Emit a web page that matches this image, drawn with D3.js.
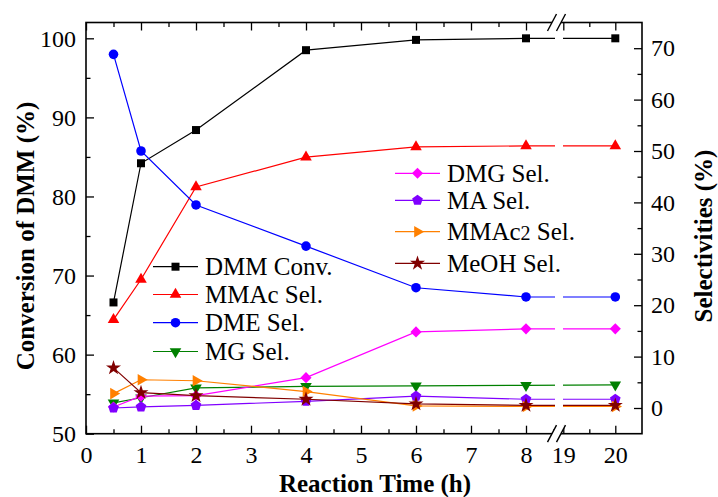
<!DOCTYPE html>
<html>
<head>
<meta charset="utf-8">
<script src="https://cdn.jsdelivr.net/npm/d3@7"></script>
<style>
    body { margin: 0; background: #fff; }
    svg, svg text { font-family: "Liberation Serif", "Times New Roman", "DejaVu Serif", serif; }
</style>
</head>
<body>
<div id="chart"></div>
<script>
'use strict';

// reaction time (h)
const times = [0.5, 1, 2, 4, 6, 8, 20];

// conversion of DMM (%) - left axis
const dmmConv = [66.6, 84.2, 88.4, 98.5, 99.8, 100.0, 100.0];

// selectivities (%) - right axis
const mmacSel  = [17.2, 25.0, 43.0, 48.8, 50.8, 51.0, 51.0];
const dmeSel   = [68.8, 50.0, 39.5, 31.5, 23.4, 21.6, 21.6];
const mgSel    = [1.0, 2.0, 3.9, 4.2, 4.3, 4.4, 4.5];
const dmgSel   = [0.2, 2.3, 2.4, 5.9, 14.8, 15.4, 15.4];
const maSel    = [0.0, 0.2, 0.5, 1.3, 2.3, 1.7, 1.7];
const mmac2Sel = [2.8, 5.5, 5.3, 3.2, 0.4, 0.3, 0.3];
const meohSel  = [7.8, 3.0, 2.4, 1.7, 0.8, 0.5, 0.5];

// tick values
const xTicksA = [0, 1, 2, 3, 4, 5, 6, 7, 8];
const xTicksB = [19, 20];
const leftTicks = [50, 60, 70, 80, 90, 100];
const rightTicks = [0, 10, 20, 30, 40, 50, 60, 70];

// Config
const W = 718, H = 497;
const plot = {left: 86, right: 642, top: 22.5, bottom: 433.7};
const breakGap = [555, 563];
const serif = '"Liberation Serif", "Times New Roman", "DejaVu Serif", serif';

const svg = d3.select('#chart')
    .append('svg')
    .attr('width', W)
    .attr('height', H)
    .attr('font-family', serif);

// x scale is split in two pieces around the axis break
const xA = d3.scaleLinear().domain([0, 8.6]).range([plot.left, 559]);
const xB = d3.scaleLinear().domain([19, 20]).range([563.3, 615.3]);
const xPos = t => (t < 12 ? xA(t) : xB(t));

const yL = d3.scaleLinear().domain([50, 102]).range([plot.bottom, plot.top]);
const yR = d3.scaleLinear().domain([-5, 75]).range([plot.bottom, plot.top]);

// markers
function pentagon(r) {
    const pts = d3.range(5).map(i => {
        const a = -Math.PI / 2 + i * 2 * Math.PI / 5;
        return [r * Math.cos(a), r * Math.sin(a)];
    });
    return 'M' + pts.map(p => p.join(',')).join('L') + 'Z';
}
const markers = {
    square:   {d: d3.symbol(d3.symbolSquare, 64)(), rot: 0},
    triUp:    {d: d3.symbol(d3.symbolTriangle, 58)(), rot: 0},
    circle:   {d: d3.symbol(d3.symbolCircle, 72)(), rot: 0},
    triDown:  {d: d3.symbol(d3.symbolTriangle, 58)(), rot: 180},
    diamond:  {d: d3.symbol(d3.symbolSquare, 62)(), rot: 45},
    pentagon: {d: pentagon(5.6), rot: 0},
    triRight: {d: d3.symbol(d3.symbolTriangle, 58)(), rot: 90},
    star:     {d: d3.symbol(d3.symbolStar, 70)(), rot: 0}
};

const series = [
    {name: 'DMM Conv.',  values: dmmConv,  y: yL, color: '#000000', marker: 'square'},
    {name: 'MMAc Sel.',  values: mmacSel,  y: yR, color: '#ff0000', marker: 'triUp'},
    {name: 'DME Sel.',   values: dmeSel,   y: yR, color: '#0000ff', marker: 'circle'},
    {name: 'MG Sel.',    values: mgSel,    y: yR, color: '#008000', marker: 'triDown'},
    {name: 'DMG Sel.',   values: dmgSel,   y: yR, color: '#ff00ff', marker: 'diamond'},
    {name: 'MA Sel.',    values: maSel,    y: yR, color: '#8000ff', marker: 'pentagon'},
    {name: 'MMAc2 Sel.', values: mmac2Sel, y: yR, color: '#ff8000', marker: 'triRight'},
    {name: 'MeOH Sel.',  values: meohSel,  y: yR, color: '#800000', marker: 'star'}
];

// clip lines so they stop at the break
const clip = svg.append('defs').append('clipPath').attr('id', 'breakClip');
clip.append('rect').attr('x', 0).attr('y', 0).attr('width', breakGap[0]).attr('height', H);
clip.append('rect').attr('x', breakGap[1]).attr('y', 0).attr('width', W - breakGap[1]).attr('height', H);

// frame
svg.append('rect')
    .attr('x', plot.left).attr('y', plot.top)
    .attr('width', plot.right - plot.left)
    .attr('height', plot.bottom - plot.top)
    .attr('fill', 'none')
    .attr('stroke', '#000')
    .attr('stroke-width', 1.6);

// axes helper
function styleAxis(g) {
    g.attr('font-family', serif).attr('font-size', 24);
    g.select('.domain').remove();
    g.selectAll('.tick line').attr('stroke', '#000').attr('stroke-width', 1.3);
    g.selectAll('.tick text').attr('fill', '#000');
}

const minorA = d3.range(0.5, 8.6, 1);
const minorB = [19.5];

// bottom axis
[[xA, xTicksA, minorA], [xB, xTicksB, minorB]].forEach(([sc, maj, mnr]) => {
    svg.append('g')
        .attr('transform', `translate(0,${plot.bottom})`)
        .call(d3.axisBottom(sc).tickValues(maj).tickFormat(d3.format('d'))
            .tickSizeInner(-8).tickSizeOuter(0).tickPadding(12))
        .call(styleAxis);
    svg.append('g')
        .attr('transform', `translate(0,${plot.bottom})`)
        .call(d3.axisBottom(sc).tickValues(mnr).tickFormat('')
            .tickSizeInner(-4.5).tickSizeOuter(0))
        .call(styleAxis);
    // top mirror
    svg.append('g')
        .attr('transform', `translate(0,${plot.top})`)
        .call(d3.axisTop(sc).tickValues(maj).tickFormat('')
            .tickSizeInner(-8).tickSizeOuter(0))
        .call(styleAxis);
    svg.append('g')
        .attr('transform', `translate(0,${plot.top})`)
        .call(d3.axisTop(sc).tickValues(mnr).tickFormat('')
            .tickSizeInner(-4.5).tickSizeOuter(0))
        .call(styleAxis);
});

// left axis
svg.append('g')
    .attr('transform', `translate(${plot.left},0)`)
    .call(d3.axisLeft(yL).tickValues(leftTicks).tickSizeInner(-8).tickSizeOuter(0).tickPadding(10))
    .call(styleAxis);
svg.append('g')
    .attr('transform', `translate(${plot.left},0)`)
    .call(d3.axisLeft(yL).tickValues(d3.range(55, 100, 10)).tickFormat('').tickSizeInner(-4.5).tickSizeOuter(0))
    .call(styleAxis);

// right axis
svg.append('g')
    .attr('transform', `translate(${plot.right},0)`)
    .call(d3.axisRight(yR).tickValues(rightTicks).tickSizeInner(-8).tickSizeOuter(0).tickPadding(9))
    .call(styleAxis);
svg.append('g')
    .attr('transform', `translate(${plot.right},0)`)
    .call(d3.axisRight(yR).tickValues(d3.range(5, 70, 10)).tickFormat('').tickSizeInner(-4.5).tickSizeOuter(0))
    .call(styleAxis);

// axis break marks
[plot.top, plot.bottom].forEach(yy => {
    const c1 = 552, c2 = 561, dx = 4.5, dy = 8.5;
    svg.append('path')
        .attr('d', `M${c1 - dx},${yy + dy}L${c1 + dx},${yy - dy}L${c2 + dx},${yy - dy}L${c2 - dx},${yy + dy}Z`)
        .attr('fill', '#fff');
    [c1, c2].forEach(c => {
        svg.append('line')
            .attr('x1', c - dx).attr('y1', yy + dy)
            .attr('x2', c + dx).attr('y2', yy - dy)
            .attr('stroke', '#000')
            .attr('stroke-width', 1.4);
    });
});

// series
const gData = svg.append('g');
series.forEach(s => {
    const pts = times.map((t, i) => [xPos(t), s.y(s.values[i])]);
    gData.append('path')
        .attr('d', d3.line()(pts))
        .attr('fill', 'none')
        .attr('stroke', s.color)
        .attr('stroke-width', 1.2)
        .attr('clip-path', 'url(#breakClip)');
    const m = markers[s.marker];
    gData.selectAll(null)
        .data(pts)
        .join('path')
        .attr('d', m.d)
        .attr('transform', d => `translate(${d[0]},${d[1]}) rotate(${m.rot})`)
        .attr('fill', s.color);
});

// legends
function legend(items, x0, rows) {
    items.forEach((s, i) => {
        const g = svg.append('g').attr('transform', `translate(${x0},${rows[i]})`);
        g.append('line')
            .attr('x1', 0).attr('x2', 45)
            .attr('stroke', s.color)
            .attr('stroke-width', 1.2);
        const m = markers[s.marker];
        g.append('path')
            .attr('d', m.d)
            .attr('transform', `translate(22.5,0) rotate(${m.rot})`)
            .attr('fill', s.color);
        const t = g.append('text')
            .attr('x', 52)
            .attr('y', 8.5)
            .attr('font-size', 25)
            .attr('fill', '#000');
        if (s.name.startsWith('MMAc2')) {
            t.append('tspan').text('MMAc');
            t.append('tspan').attr('font-size', 20).text('2');
            t.append('tspan').text(' Sel.');
        } else {
            t.text(s.name);
        }
    });
}
legend(series.slice(0, 4), 153, [266.7, 294.5, 322.7, 351.5]);
legend(series.slice(4), 395, [173.3, 200.3, 231.7, 263.3]);

// axis titles
svg.append('text')
    .attr('transform', 'translate(33.5,236) rotate(-90)')
    .attr('text-anchor', 'middle')
    .attr('font-size', 25)
    .attr('font-weight', 'bold')
    .text('Conversion of DMM (%)');

svg.append('text')
    .attr('transform', 'translate(712,236) rotate(-90)')
    .attr('text-anchor', 'middle')
    .attr('font-size', 25)
    .attr('font-weight', 'bold')
    .text('Selectivities (%)');

svg.append('text')
    .attr('x', 375)
    .attr('y', 492)
    .attr('text-anchor', 'middle')
    .attr('font-size', 25)
    .attr('font-weight', 'bold')
    .text('Reaction Time (h)');
</script>
</body>
</html>
